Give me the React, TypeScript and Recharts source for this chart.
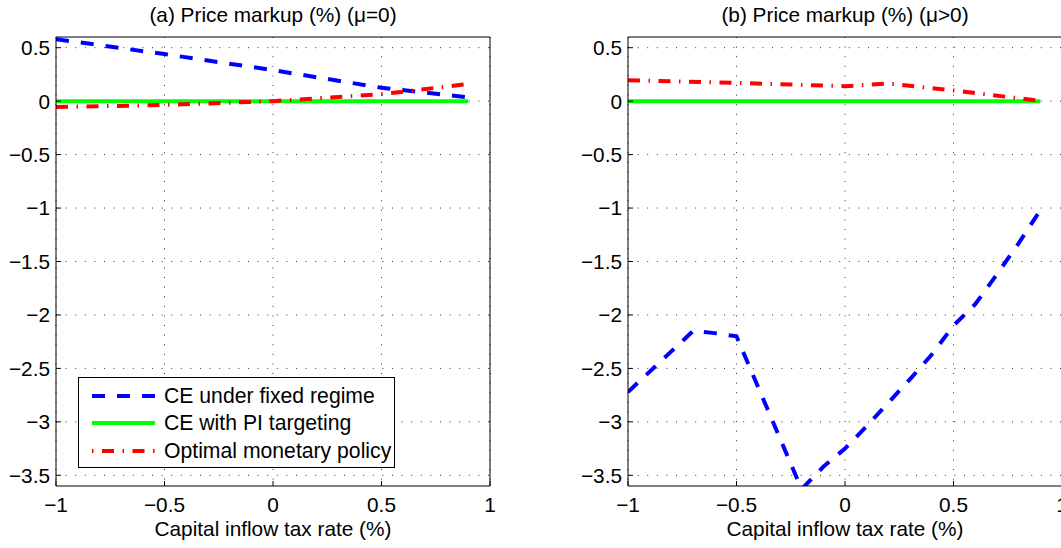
import React from "react";
import { LineChart, Line, XAxis, YAxis, CartesianGrid, Legend } from "recharts";

// ---------- data ----------
const xTicks = [-1, -0.5, 0, 0.5, 1];
const yTicks = [-3.5, -3, -2.5, -2, -1.5, -1, -0.5, 0, 0.5];

const titleA = "(a) Price markup (%) (\u03bc=0)";
const titleB = "(b) Price markup (%) (\u03bc>0)";
const xLabel = "Capital inflow tax rate (%)";
const seriesNames = ["CE under fixed regime", "CE with PI targeting", "Optimal monetary policy"];

// panel (a)
const aFixedX = [-1, -0.5, 0, 0.5, 0.9];
const aFixedY = [0.58, 0.44, 0.29, 0.125, 0.035];
const aPiX = [-1, 0.9];
const aPiY = [0, 0];
const aOptX = [-1, -0.5, 0, 0.5, 0.9];
const aOptY = [-0.055, -0.036, 0, 0.065, 0.16];

// panel (b)
const bFixedX = [-1, -0.7, -0.6, -0.5, -0.2, -0.1, 0, 0.1, 0.2, 0.3, 0.4, 0.5, 0.6, 0.7, 0.8, 0.9];
const bFixedY = [-2.72, -2.15, -2.17, -2.2, -3.63, -3.42, -3.25, -3.04, -2.82, -2.6, -2.37, -2.1, -1.9, -1.62, -1.33, -1.02];
const bPiX = [-1, 0.9];
const bPiY = [0, 0];
const bOptX = [-1, -0.5, 0, 0.2, 0.5, 0.9];
const bOptY = [0.195, 0.17, 0.14, 0.165, 0.1, 0.003];

const zip = (xs: number[], ys: number[]) => xs.map((x, i) => ({ x, y: ys[i] }));

// ---------- styles ----------
const FONT = "'Liberation Sans', Arial, Helvetica, sans-serif";
const FS = 20.8;
const LFS = 21.2;
const BLUE = "#0000ff";
const GREEN = "#00ff00";
const RED = "#ff0000";
const DASH = "13 12";
const DASHDOT = "12 8.5 1.5 8.5";
const LW = 4;

const fmt = (v: number) => (v === 0 ? "0" : String(v).replace("-", "\u2212"));

const Legendbox = () => {
  const items = [
    { name: seriesNames[0], color: BLUE, dash: DASH, off: 0 },
    { name: seriesNames[1], color: GREEN, dash: undefined, off: 0 },
    { name: seriesNames[2], color: RED, dash: DASHDOT, off: 20.5 },
  ];
  return (
    <div
      style={{
        boxSizing: "border-box",
        width: 317,
        height: 91,
        border: "1px solid #000",
        background: "#fff",
        paddingTop: 4,
        fontFamily: FONT,
        fontSize: LFS,
        color: "#000",
      }}
    >
      {items.map((it) => (
        <div key={it.name} style={{ height: 27.5, display: "flex", alignItems: "center" }}>
          <svg width={63} height={8} style={{ marginLeft: 13, marginRight: 9, flex: "none" }}>
            <line
              x1={0}
              y1={4}
              x2={63}
              y2={4}
              stroke={it.color}
              strokeWidth={LW}
              strokeDasharray={it.dash}
              strokeDashoffset={it.off}
            />
          </svg>
          <span style={{ whiteSpace: "nowrap", lineHeight: "24px" }}>{it.name}</span>
        </div>
      ))}
    </div>
  );
};

type PanelProps = {
  title: string;
  fixed: { x: number; y: number }[];
  pi: { x: number; y: number }[];
  opt: { x: number; y: number }[];
  margin: { top: number; right: number; bottom: number; left: number };
  legend?: boolean;
};

const Panel = ({ title, fixed, pi, opt, margin, legend }: PanelProps) => (
  <LineChart width={540} height={548} margin={margin}>
    <CartesianGrid
      xAxisId="b"
      yAxisId="l"
      stroke="#333"
      strokeWidth={1}
      strokeDasharray="1 8.6"
      horizontalValues={yTicks}
      verticalValues={xTicks}
    />
    <XAxis
      xAxisId="t"
      orientation="top"
      type="number"
      dataKey="x"
      domain={[-1, 1]}
      ticks={xTicks}
      allowDataOverflow
      interval={0}
      height={37}
      tick={false}
      tickSize={-5}
      stroke="#000"
      label={{ value: title, position: "insideTop", offset: 7, fill: "#000", fontSize: FS }}
    />
    <XAxis
      xAxisId="b"
      orientation="bottom"
      type="number"
      dataKey="x"
      domain={[-1, 1]}
      ticks={xTicks}
      allowDataOverflow
      interval={0}
      height={62}
      tickSize={-5}
      tickMargin={16}
      tickFormatter={fmt}
      tick={{ fill: "#000", fontSize: FS }}
      stroke="#000"
      label={{ value: xLabel, position: "insideTop", offset: 35, fill: "#000", fontSize: FS }}
    />
    <YAxis
      yAxisId="l"
      orientation="left"
      type="number"
      domain={[-3.6, 0.6]}
      ticks={yTicks}
      allowDataOverflow
      interval={0}
      width={50}
      tickSize={-5}
      tickMargin={11}
      tickFormatter={fmt}
      tick={{ fill: "#000", fontSize: FS }}
      stroke="#000"
    />
    <YAxis
      yAxisId="r"
      orientation="right"
      type="number"
      domain={[-3.6, 0.6]}
      ticks={yTicks}
      allowDataOverflow
      interval={0}
      width={1}
      tick={false}
      tickSize={-5}
      stroke="#000"
    />
    <Line
      xAxisId="b"
      yAxisId="l"
      data={fixed}
      dataKey="y"
      name={seriesNames[0]}
      type="linear"
      stroke={BLUE}
      strokeWidth={LW}
      strokeDasharray={DASH}
      dot={false}
      activeDot={false}
      isAnimationActive={false}
    />
    <Line
      xAxisId="b"
      yAxisId="l"
      data={pi}
      dataKey="y"
      name={seriesNames[1]}
      type="linear"
      stroke={GREEN}
      strokeWidth={LW}
      dot={false}
      activeDot={false}
      isAnimationActive={false}
    />
    <Line
      xAxisId="b"
      yAxisId="l"
      data={opt}
      dataKey="y"
      name={seriesNames[2]}
      type="linear"
      stroke={RED}
      strokeWidth={LW}
      strokeDasharray={DASHDOT}
      dot={false}
      activeDot={false}
      isAnimationActive={false}
    />
    {legend && (
      <Legend
        layout="vertical"
        align="center"
        verticalAlign="middle"
        wrapperStyle={{ left: 78, top: 377, width: 317, height: 91 }}
        content={() => <Legendbox />}
      />
    )}
  </LineChart>
);

export default function App() {
  return (
    <div
      style={{
        position: "absolute",
        left: 0,
        top: 0,
        width: 1061,
        height: 548,
        overflow: "hidden",
        background: "#fff",
        fontFamily: FONT,
      }}
    >
      <div style={{ position: "absolute", left: 0, top: 0 }}>
        <Panel
          title={titleA}
          fixed={zip(aFixedX, aFixedY)}
          pi={zip(aPiX, aPiY)}
          opt={zip(aOptX, aOptY)}
          margin={{ top: 0, right: 49, bottom: 0, left: 6 }}
          legend
        />
      </div>
      <div style={{ position: "absolute", left: 540, top: 0 }}>
        <Panel
          title={titleB}
          fixed={zip(bFixedX, bFixedY)}
          pi={zip(bPiX, bPiY)}
          opt={zip(bOptX, bOptY)}
          margin={{ top: 0, right: 17, bottom: 0, left: 38 }}
        />
      </div>
    </div>
  );
}
